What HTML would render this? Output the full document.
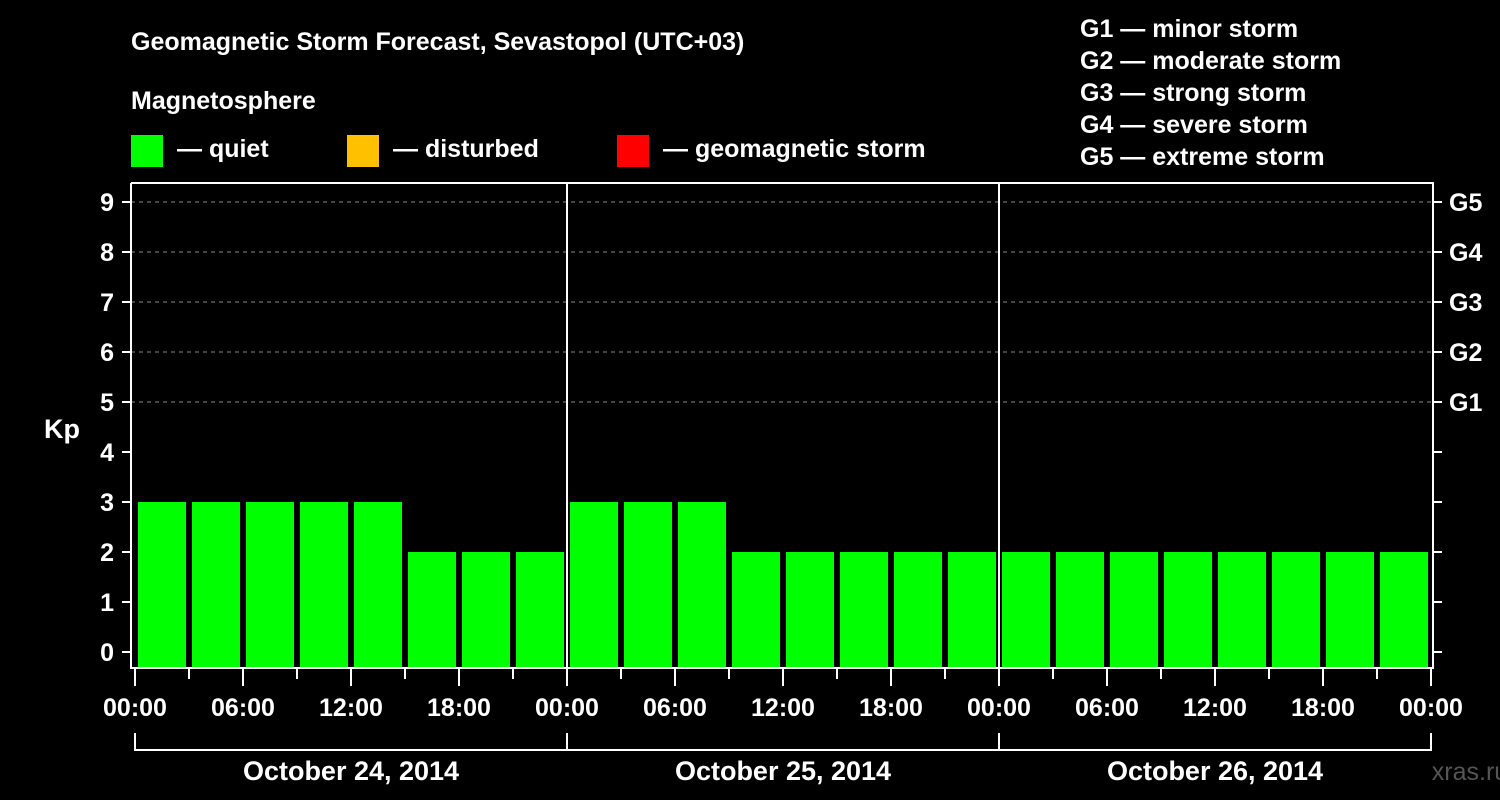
<!DOCTYPE html>
<html><head><meta charset="utf-8"><style>
html,body{margin:0;padding:0;background:#000;}
svg{display:block;font-family:"Liberation Sans",Arial,sans-serif;font-weight:bold;}
</style></head><body>
<svg id="chart" width="1500" height="800" viewBox="0 0 1500 800">
<rect width="1500" height="800" fill="#000"/>
<text x="131" y="50" fill="#fff" font-size="25">Geomagnetic Storm Forecast, Sevastopol (UTC+03)</text>
<text x="131" y="109" fill="#fff" font-size="25">Magnetosphere</text>
<g><rect x="131" y="135" width="32" height="32" fill="#00ff00"/><text x="177" y="157" fill="#fff" font-size="25">— quiet</text></g>
<g><rect x="347" y="135" width="32" height="32" fill="#ffc000"/><text x="393" y="157" fill="#fff" font-size="25">— disturbed</text></g>
<g><rect x="617" y="135" width="32" height="32" fill="#ff0000"/><text x="663" y="157" fill="#fff" font-size="25">— geomagnetic storm</text></g>
<g fill="#fff" font-size="25">
<text x="1080" y="37">G1 — minor storm</text>
<text x="1080" y="69">G2 — moderate storm</text>
<text x="1080" y="101">G3 — strong storm</text>
<text x="1080" y="133">G4 — severe storm</text>
<text x="1080" y="165">G5 — extreme storm</text>
</g>
<text x="62" y="438" fill="#fff" font-size="27" text-anchor="middle">Kp</text>
<text x="1470" y="780" fill="#555" font-size="25" text-anchor="middle" font-weight="normal">xras.ru</text>
<g id="grid"></g><g id="bars"></g><g id="axes"></g>
</svg>
<script>
const kpValues = [3,3,3,3,3,2,2,2, 3,3,3,2,2,2,2,2, 2,2,2,2,2,2,2,2];
const dayLabels = ["October 24, 2014","October 25, 2014","October 26, 2014"];
const timeLabels = ["00:00","06:00","12:00","18:00"];
const yTicks = [0,1,2,3,4,5,6,7,8,9];
const gLabels = ["G1","G2","G3","G4","G5"];

const NS="http://www.w3.org/2000/svg";
const X0=135, SLOT=54, Y0=652, KPX=50;
const L=131,R=1433,T=183,B=668;
const xs=i=>X0+i*SLOT;
const ys=k=>Y0-k*KPX;
function mk(tag,attrs,parent){const e=document.createElementNS(NS,tag);for(const k in attrs)e.setAttribute(k,attrs[k]);parent.appendChild(e);return e;}
const grid=document.getElementById('grid'),bars=document.getElementById('bars'),axes=document.getElementById('axes');
function color(k){return k>=5?"#ff0000":(k>=4?"#ffc000":"#00ff00");}
for(let k=5;k<=9;k++){
  const l=mk('line',{x1:L,x2:R,y1:ys(k),y2:ys(k),stroke:"#888","stroke-width":1,"stroke-dasharray":"4,4"},grid);
  
  
}
kpValues.forEach((v,i)=>{
  const r=mk('rect',{x:xs(i)+3,y:ys(v),width:48,height:B-ys(v),fill:color(v)},bars);
  
  
});
const fr=mk('path',{d:`M${L},${T}V${B}H${R}V${T}H${L}`,fill:"none",stroke:"#fff","stroke-width":2},axes);


for(let d=1;d<dayLabels.length;d++){
  const l=mk('line',{x1:xs(d*8),x2:xs(d*8),y1:T,y2:B,stroke:"#fff","stroke-width":2},axes);
  
  
}
yTicks.forEach(k=>{
  mk('line',{x1:122,x2:L,y1:ys(k),y2:ys(k),stroke:"#fff","stroke-width":2},axes);
  mk('line',{x1:R,x2:1442,y1:ys(k),y2:ys(k),stroke:"#fff","stroke-width":2},axes);
  const t=mk('text',{x:114,y:ys(k)+9,fill:"#fff","font-size":25,"text-anchor":"end"},axes);
  t.textContent=k;
  
  
});
gLabels.forEach((g,i)=>{
  const t=mk('text',{x:1449,y:ys(5+i)+9,fill:"#fff","font-size":25},axes);
  t.textContent=g;
  
  
});
const n=dayLabels.length*8;
for(let i=0;i<=n;i++){
  const long=i%2===0;
  mk('line',{x1:xs(i),x2:xs(i),y1:B,y2:long?686:679,stroke:"#fff","stroke-width":2},axes);
  if(long){
    const t=mk('text',{x:xs(i),y:716,fill:"#fff","font-size":25,"text-anchor":"middle"},axes);
    t.textContent=timeLabels[(i/2)%4];
    
    
  }
}
dayLabels.forEach((d,i)=>{
  const a=xs(i*8),b=xs(i*8+8);
  mk('path',{d:`M${a},733V750H${b}V733`,fill:"none",stroke:"#fff","stroke-width":2},axes);
  const t=mk('text',{x:(a+b)/2,y:780,fill:"#fff","font-size":27,"text-anchor":"middle"},axes);
  t.textContent=d;
  
  
});
</script>
</body></html>
